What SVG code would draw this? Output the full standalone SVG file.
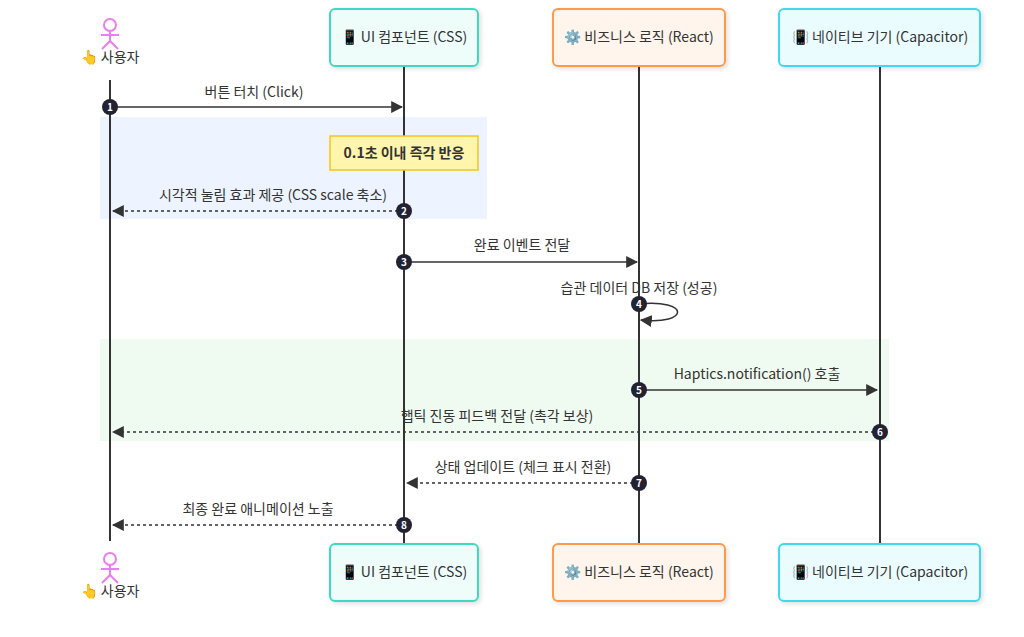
<svg xmlns="http://www.w3.org/2000/svg" width="1024" height="637" viewBox="0 0 1024 637">
<defs>
<style>
text{font-family:"Noto Sans CJK KR","Noto Sans",sans-serif;font-size:14px;fill:#333;text-anchor:middle}
.life{stroke:#333;stroke-width:2}
.msg{stroke:#333;stroke-width:1.5;fill:none}
.dot{stroke-dasharray:3 3}
.num{fill:#222233}
.n{fill:#fff;font-size:10px;font-weight:bold}
.actor{stroke:#e87ef0;stroke-width:2;fill:none}
</style>
<marker id="ah" viewBox="0 0 10 10" refX="9" refY="5" markerWidth="8" markerHeight="8" orient="auto"><path d="M0,0L10,5L0,10z" fill="#333"/></marker>
<filter id="sh"><feDropShadow dx="2" dy="2" stdDeviation="2" flood-opacity="0.12"/></filter>
</defs>
<rect width="1024" height="637" fill="#fff"/>
<rect x="100" y="117" width="387" height="102" fill="#eef4ff"/>
<rect x="100" y="339" width="789" height="102" fill="#effbf1"/>
<g id="lifelines">
<line class="life" x1="110" y1="80" x2="110" y2="541"/>
<line class="life" x1="404" y1="66" x2="404" y2="544"/>
<line class="life" x1="639" y1="66" x2="639" y2="544"/>
<line class="life" x1="880" y1="66" x2="880" y2="544"/>
</g>
<g id="user">
<circle class="actor" cx="110" cy="25" r="6"/><path class="actor" d="M110,31V41M101,35H119M110,41L102,49M110,41L118,49"/>
<text x="110" y="62">👆 사용자</text>
</g>
<g id="user-bottom">
<circle class="actor" cx="110" cy="559" r="6"/><path class="actor" d="M110,565V575M101,569H119M110,575L102,583M110,575L118,583"/>
<text x="110" y="596">👆 사용자</text>
</g>
<g id="ui"><rect x="330" y="9" width="148" height="57" rx="5" fill="#effdfa" stroke="#3fd8c0" stroke-width="2" filter="url(#sh)"/><text x="404" y="42">📱 UI 컴포넌트 (CSS)</text></g>
<g id="ui-bottom"><rect x="330" y="544" width="148" height="57" rx="5" fill="#effdfa" stroke="#3fd8c0" stroke-width="2" filter="url(#sh)"/><text x="404" y="577">📱 UI 컴포넌트 (CSS)</text></g>
<g id="logic"><rect x="553" y="9" width="172" height="57" rx="5" fill="#fff5ec" stroke="#ff9a4d" stroke-width="2" filter="url(#sh)"/><text x="639" y="42">⚙️ 비즈니스 로직 (React)</text></g>
<g id="logic-bottom"><rect x="553" y="544" width="172" height="57" rx="5" fill="#fff5ec" stroke="#ff9a4d" stroke-width="2" filter="url(#sh)"/><text x="639" y="577">⚙️ 비즈니스 로직 (React)</text></g>
<g id="native"><rect x="779" y="9" width="201" height="57" rx="5" fill="#ebfcff" stroke="#3fd8ee" stroke-width="2" filter="url(#sh)"/><text x="880" y="42">📳 네이티브 기기 (Capacitor)</text></g>
<g id="native-bottom"><rect x="779" y="544" width="201" height="57" rx="5" fill="#ebfcff" stroke="#3fd8ee" stroke-width="2" filter="url(#sh)"/><text x="880" y="577">📳 네이티브 기기 (Capacitor)</text></g>
<g id="note"><rect x="330" y="136" width="148" height="34" fill="#fff5ad" stroke="#f5c518" stroke-width="1.5"/><text x="404" y="158" style="font-weight:bold">0.1초 이내 즉각 반응</text></g>
<g id="connectors">
<line class="msg" x1="110" y1="107" x2="402" y2="107" marker-end="url(#ah)"/>
<text x="254" y="97">버튼 터치 (Click)</text>
<line class="msg dot" x1="404" y1="211" x2="113" y2="211" marker-end="url(#ah)"/>
<text x="273" y="200">시각적 눌림 효과 제공 (CSS scale 축소)</text>
<line class="msg" x1="404" y1="262" x2="637" y2="262" marker-end="url(#ah)"/>
<text x="522" y="250">완료 이벤트 전달</text>
<path class="msg" d="M639,304C690,299 690,325 641,320" marker-end="url(#ah)"/>
<text x="639" y="293">습관 데이터 DB 저장 (성공)</text>
<line class="msg" x1="639" y1="390" x2="877" y2="390" marker-end="url(#ah)"/>
<text x="757" y="379">Haptics.notification() 호출</text>
<line class="msg dot" x1="880" y1="432" x2="113" y2="432" marker-end="url(#ah)"/>
<text x="497" y="421">햅틱 진동 피드백 전달 (촉각 보상)</text>
<line class="msg dot" x1="639" y1="483" x2="407" y2="483" marker-end="url(#ah)"/>
<text x="523" y="472">상태 업데이트 (체크 표시 전환)</text>
<line class="msg dot" x1="404" y1="525" x2="113" y2="525" marker-end="url(#ah)"/>
<text x="258" y="514">최종 완료 애니메이션 노출</text>
<circle class="num" cx="110" cy="107" r="8"/><text class="n" x="110" y="110.5">1</text>
<circle class="num" cx="404" cy="211" r="8"/><text class="n" x="404" y="214.5">2</text>
<circle class="num" cx="404" cy="262" r="8"/><text class="n" x="404" y="265.5">3</text>
<circle class="num" cx="639" cy="304" r="8"/><text class="n" x="639" y="307.5">4</text>
<circle class="num" cx="639" cy="390" r="8"/><text class="n" x="639" y="393.5">5</text>
<circle class="num" cx="880" cy="432" r="8"/><text class="n" x="880" y="435.5">6</text>
<circle class="num" cx="639" cy="483" r="8"/><text class="n" x="639" y="486.5">7</text>
<circle class="num" cx="404" cy="525" r="8"/><text class="n" x="404" y="528.5">8</text>
</g>
</svg>
